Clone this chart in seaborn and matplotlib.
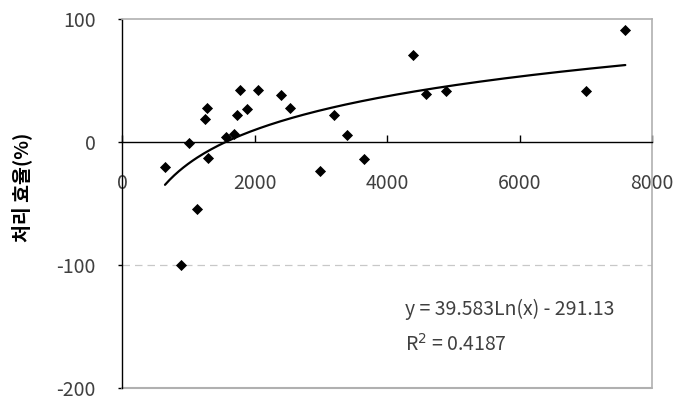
import numpy as np
import pandas as pd
import matplotlib
matplotlib.use("Agg")
import matplotlib.pyplot as plt
import seaborn as sns

# ──────────────────────────────────────────────
# Data
# ──────────────────────────────────────────────
x_vals = [649, 1011, 1127, 886, 1248, 1283, 1303, 1570, 1686, 1741, 1786, 1882,
          2053, 2405, 2541, 2994, 3205, 3396, 3653, 4387, 4594, 4891, 7004, 7597]
y_vals = [-20.6, -0.8, -54.5, -100, 18.7, 27.9, -12.7, 3.8, 6.5, 22, 42, 26.8,
          42, 38.2, 27.9, -23.3, 22, 5.7, -14.1, 70.7, 39, 41.7, 41.7, 91.3]

# log trendline as printed on the chart
coef_a = 39.583
coef_b = -291.13
r_squared = 0.4187

x_ticks = [0, 2000, 4000, 6000, 8000]
y_ticks = [-200, -100, 0, 100]
y_label = "처리 효율(%)"

df = pd.DataFrame({"x": x_vals, "y": y_vals})
trend_x = np.linspace(min(x_vals), max(x_vals), 200)
trend = pd.DataFrame({"x": trend_x, "y": coef_a * np.log(trend_x) + coef_b})

# ──────────────────────────────────────────────
# Plot
# ──────────────────────────────────────────────
sns.set_style("white")
plt.rcParams["font.family"] = ["Noto Sans CJK KR", "DejaVu Sans"]
plt.rcParams["axes.unicode_minus"] = False
text_color = "#404040"
frame_color = "#b0b0b0"

fig = plt.figure(figsize=(6.74, 4.05), dpi=100)
ax = fig.add_axes([122 / 674, 1 - 388 / 405, 530 / 674, 369 / 405])

sns.scatterplot(data=df, x="x", y="y", marker="D", s=32, color="black",
                edgecolor="black", linewidth=0, ax=ax, zorder=3)
sns.lineplot(data=trend, x="x", y="y", color="black", linewidth=1.6, ax=ax, zorder=2)

ax.set_xlim(0, 8000)
ax.set_ylim(-200, 100)
ax.set_xticks(x_ticks)
ax.set_yticks(y_ticks)
ax.set_xlabel("")
ax.set_ylabel(y_label, fontsize=14, fontweight="bold", color="black")
ax.yaxis.set_label_coords(-0.17, 0.545)

# dashed gridline at -100
ax.axhline(-100, color="#c8c8c8", linestyle=(0, (6, 4)), linewidth=0.9, zorder=1)

# x-axis crosses at y = 0
ax.spines["bottom"].set_position(("data", 0))
ax.spines["bottom"].set_color("black")
ax.spines["bottom"].set_linewidth(1.0)
ax.spines["left"].set_color("black")
ax.spines["left"].set_linewidth(1.0)
for side in ["top", "right"]:
    ax.spines[side].set_visible(True)
    ax.spines[side].set_color(frame_color)
    ax.spines[side].set_linewidth(1.2)
# bottom frame of the plot area
ax.plot([0, 1], [0, 0], transform=ax.transAxes, color=frame_color,
        linewidth=1.5, clip_on=False, zorder=1)

ax.tick_params(axis="x", direction="in", length=5, width=1, color="black",
               labelsize=14, labelcolor=text_color, pad=22, bottom=True)
ax.tick_params(axis="y", direction="out", length=3, width=1, color="black",
               labelsize=14, labelcolor=text_color, pad=16, left=True)

ax.text(0.534, 0.212, f"y = {coef_a}Ln(x) - {abs(coef_b)}", transform=ax.transAxes,
        fontsize=14, color=text_color, va="center", ha="left")
ax.text(0.534, 0.117, f"R$^2$ = {r_squared}", transform=ax.transAxes,
        fontsize=14, color=text_color, va="center", ha="left")

fig.savefig("out.png", dpi=100)
